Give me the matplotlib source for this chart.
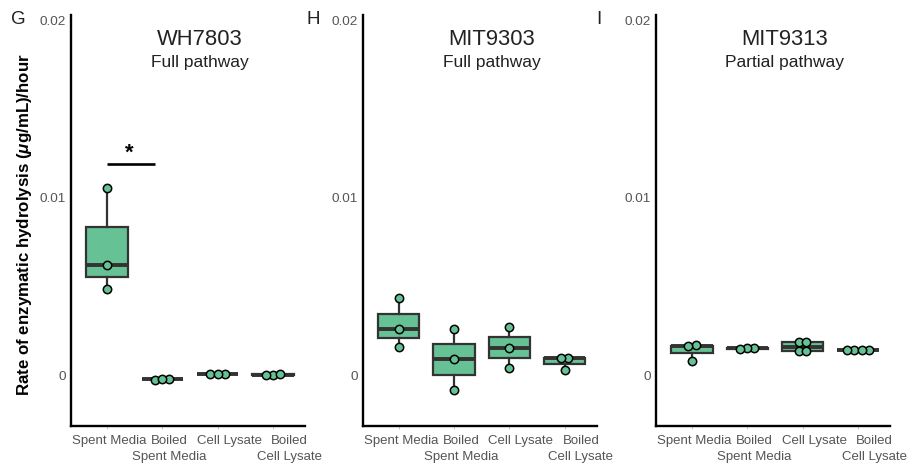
import matplotlib
matplotlib.use("Agg")
import matplotlib.pyplot as plt
import matplotlib.transforms as mtransforms
import numpy as np

plt.rcParams.update({"font.family": ["Liberation Sans", "DejaVu Sans"],
                     "mathtext.fontset": "custom",
                     "mathtext.bfit": "Liberation Sans:bold:italic",
                     "mathtext.it": "Liberation Sans:italic",
                     "mathtext.bf": "Liberation Sans:bold"})

FILL = "#66c195"
EDGE = "#333333"
TICKC = "#555555"

CATEGORIES = ["Spent Media", "Boiled\nSpent Media", "Cell Lysate", "Boiled\nCell Lysate"]
STRAINS = ["WH7803", "MIT9303", "MIT9313"]
PATHWAYS = ["Full pathway", "Full pathway", "Partial pathway"]
LETTERS = ["G", "H", "I"]

# rate of hydrolysis, (ug/mL)/hour, one list per category
WH7803 = [[0.01054, 0.00620, 0.00485],
          [-0.00025, -0.00022, -0.00024],
          [0.00005, 0.00007, 0.00006],
          [0.00003, 0.00002, 0.00004]]
MIT9303 = [[0.00432, 0.00259, 0.00158],
           [0.00259, 0.00088, -0.00085],
           [0.00270, 0.00154, 0.00038],
           [0.00099, 0.00094, 0.00028]]
MIT9313 = [[0.00167, 0.00166, 0.00081],
           [0.00151, 0.00150, 0.00149],
           [0.00184, 0.00185, 0.00135, 0.00136],
           [0.00141, 0.00140, 0.00142, 0.00141]]
DATA = [WH7803, MIT9303, MIT9313]

# significance bar in panel G (Spent Media vs Boiled Spent Media)
SIG_Y = 0.01189
SIG_X = (1.0, 1.865)

YLIM = (-0.00287, 0.0203)


def dot_offsets(vals, binw=0.0004, step=0.13):
    """centred stacks like geom_dotplot(binaxis='y', stackdir='center')"""
    order = np.argsort(vals)
    v = np.asarray(vals)[order]
    off = np.zeros(len(v))
    i = 0
    while i < len(v):
        j = i
        while j + 1 < len(v) and v[j + 1] - v[i] < binw:
            j += 1
        k = j - i + 1
        off[i:j + 1] = (np.arange(k) - (k - 1) / 2) * step
        i = j + 1
    out = np.zeros(len(v))
    out[order] = off
    return out


def panel(ax, data, strain, pathway):
    pos = np.arange(1, len(data) + 1)
    ax.boxplot(data, positions=pos, widths=0.75, patch_artist=True,
               showfliers=False, showcaps=False,
               boxprops=dict(facecolor=FILL, edgecolor=EDGE, linewidth=1.6),
               whiskerprops=dict(color=EDGE, linewidth=1.6),
               medianprops=dict(color=EDGE, linewidth=2.8, solid_capstyle="butt"))
    for p, vals in zip(pos, data):
        ax.scatter(p + dot_offsets(vals), vals, s=36, color=FILL,
                   edgecolor="black", linewidth=1.1, zorder=5)

    ax.set_xlim(0.35, 4.58)
    ax.set_ylim(*YLIM)
    ax.set_yticks([0, 0.01, 0.02])
    ax.set_yticklabels(["0", "0.01", "0.02"])
    ax.tick_params(axis="y", length=0, pad=3.5, labelsize=9.7, labelcolor=TICKC)
    ax.set_xticks(pos)
    ax.set_xticklabels([])
    ax.tick_params(axis="x", length=2, color="#bbbbbb", width=0.6)
    for s in ["top", "right"]:
        ax.spines[s].set_visible(False)
    for s in ["left", "bottom"]:
        ax.spines[s].set_linewidth(1.7)
        ax.spines[s].set_color("black")

    # category labels (sit slightly right of the ticks in the original),
    # one text per line so the short first line keeps clear of its neighbour
    tr = mtransforms.blended_transform_factory(ax.transData, ax.transAxes)
    for i, lab in enumerate(CATEGORIES):
        for j, line in enumerate(lab.split("\n")):
            ax.text(1.04 + i * 1.085, -0.021 - j * 0.039, line, transform=tr,
                    ha="center", va="top", fontsize=9.5, color=TICKC,
                    clip_on=False)

    ax.text(0.55, 0.927, strain, transform=ax.transAxes, ha="center",
            va="baseline", fontsize=15.8, color="#222222")
    ax.text(0.55, 0.874, pathway, transform=ax.transAxes, ha="center",
            va="baseline", fontsize=12.5, color="#222222")


fig = plt.figure(figsize=(9.11, 4.70), dpi=100)
lefts = [71, 362.7, 656]
for k in range(3):
    ax = fig.add_axes([lefts[k] / 911, 1 - 426 / 470, 234 / 911, 411 / 470])
    panel(ax, DATA[k], STRAINS[k], PATHWAYS[k])
    if k == 0:
        ax.plot(SIG_X, [SIG_Y, SIG_Y], color="black", linewidth=1.9,
                solid_capstyle="butt")
        ax.text(np.mean(SIG_X) - 0.02, SIG_Y + 0.00005, "*", ha="center",
                va="bottom", fontsize=16, fontweight="bold")

for x, lt in zip([18, 313, 599], LETTERS):
    fig.text(x / 911, 1 - 20 / 470, lt, ha="center", va="center",
             fontsize=13.5, color="#222222")

fig.text(25 / 911, 1 - 225 / 470,
         r"Rate of enzymatic hydrolysis ($\mathbfit{\mu}$g/mL)/hour",
         rotation=90, ha="center", va="center", fontsize=12.2,
         fontweight="bold")

fig.savefig("out.png", dpi=100, facecolor="white")
